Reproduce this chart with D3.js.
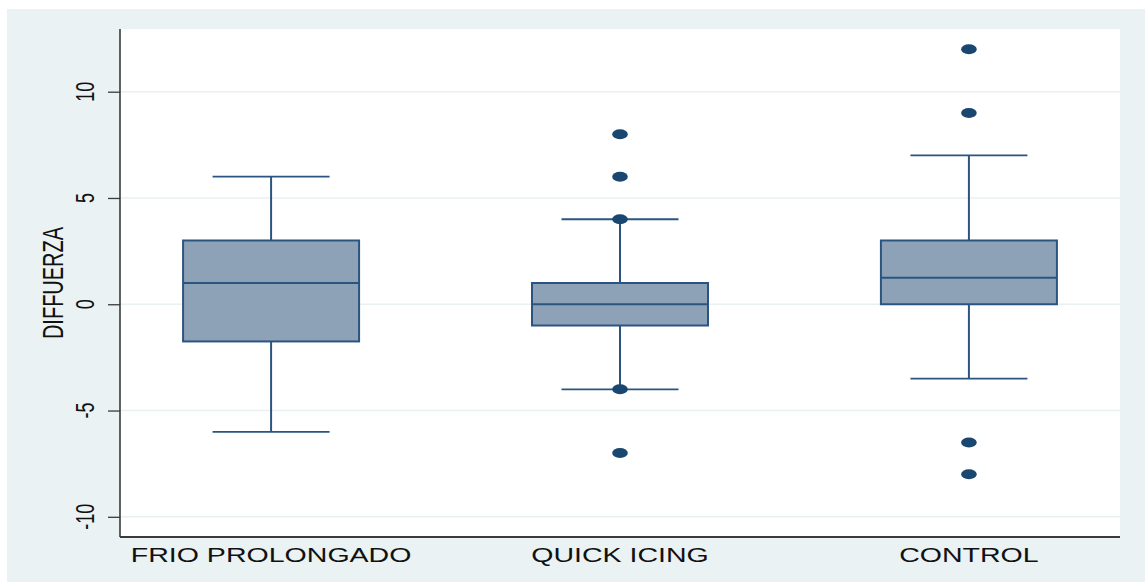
<!DOCTYPE html>
<html>
<head>
<meta charset="utf-8">
<script src="https://cdn.jsdelivr.net/npm/d3@7"></script>
<style>
  html, body { margin: 0; padding: 0; background: #ffffff; }
  svg { display: block; }
  text { font-family: "Liberation Sans", Arial, Helvetica, sans-serif; fill: #111; }
</style>
</head>
<body>
<svg id="chart" width="1145" height="582"></svg>
<script>
// Groups shown on the x axis
const categories = ["FRIO PROLONGADO", "QUICK ICING", "CONTROL"];

// Box statistics per group: lower whisker, Q1, median, Q3, upper whisker
const whiskerLow  = [-6,   -4, -3.5];
const q1          = [-1.75, -1,  0];
const medians     = [1,     0,  1.25];
const q3          = [3,     1,  3];
const whiskerHigh = [6,     4,  7];

// Individual observations drawn as dots (outside or at the whisker ends)
const outliers = [
  [],
  [8, 6, 4, -4, -7],
  [12, 9, -6.5, -8]
];

// Y axis tick labels
const yTicks = [-10, -5, 0, 5, 10];
const yTitle = "DIFFUERZA";

const svg = d3.select("#chart");
const W = 1145, H = 582;
const plot = { left: 120, right: 1120, top: 29, bottom: 537 };

const colors = {
  outer: "#eaf2f3",
  grid: "#e8f0f2",
  fill: "#8da2b6",
  stroke: "#2b5580",
  dot: "#1a476f",
  axis: "#3a3a3a"
};

// Outer graph region and white plot region
svg.append("rect").attr("x", 7).attr("y", 9).attr("width", W - 7).attr("height", H - 9)
  .attr("fill", colors.outer);
svg.append("rect").attr("x", plot.left).attr("y", plot.top)
  .attr("width", plot.right - plot.left).attr("height", plot.bottom - plot.top)
  .attr("fill", "#ffffff");

const y = d3.scaleLinear().domain([-10.95, 12.95]).range([plot.bottom, plot.top]);
const x = d3.scalePoint().domain(categories).range([plot.left, plot.right]).padding(0.433);

// Horizontal grid lines
svg.append("g").selectAll("line").data(yTicks).join("line")
  .attr("x1", plot.left).attr("x2", plot.right)
  .attr("y1", d => y(d)).attr("y2", d => y(d))
  .attr("stroke", colors.grid).attr("stroke-width", 1.6);

// Left axis with ticks
const yAxis = d3.axisLeft(y).tickValues(yTicks).tickSize(12).tickFormat("");
const gy = svg.append("g").attr("transform", `translate(${plot.left},0)`).call(yAxis);
gy.select(".domain").remove();
gy.selectAll(".tick line").attr("stroke", colors.axis).attr("stroke-width", 1.3);
svg.append("line").attr("x1", plot.left).attr("x2", plot.left)
  .attr("y1", plot.top).attr("y2", plot.bottom)
  .attr("stroke", colors.axis).attr("stroke-width", 1.6);

// Rotated tick labels
svg.append("g").selectAll("text").data(yTicks).join("text")
  .attr("transform", d => `translate(85,${y(d)}) rotate(-90) scale(1,1.45)`)
  .attr("text-anchor", "middle").attr("dominant-baseline", "central")
  .attr("font-size", 18)
  .text(d => d);

// Y axis title
svg.append("text")
  .attr("transform", `translate(53,${(plot.top + plot.bottom) / 2}) rotate(-90) scale(1,1.45)`)
  .attr("text-anchor", "middle").attr("dominant-baseline", "central")
  .attr("font-size", 20)
  .text(yTitle);

// Bottom axis line
svg.append("line").attr("x1", plot.left).attr("x2", plot.right)
  .attr("y1", plot.bottom).attr("y2", plot.bottom)
  .attr("stroke", colors.axis).attr("stroke-width", 2);

// Category labels
svg.append("g").selectAll("text").data(categories).join("text")
  .attr("transform", d => `translate(${x(d)},554) scale(1.36,1)`)
  .attr("text-anchor", "middle").attr("dominant-baseline", "central")
  .attr("font-size", 21)
  .text(d => d);

const boxHalf = 88, capHalf = 58.5;

const groups = svg.append("g").selectAll("g").data(categories).join("g");

// Whisker stems
groups.append("line")
  .attr("x1", d => x(d)).attr("x2", d => x(d))
  .attr("y1", (d, i) => y(whiskerHigh[i])).attr("y2", (d, i) => y(q3[i]))
  .attr("stroke", colors.stroke).attr("stroke-width", 2);
groups.append("line")
  .attr("x1", d => x(d)).attr("x2", d => x(d))
  .attr("y1", (d, i) => y(q1[i])).attr("y2", (d, i) => y(whiskerLow[i]))
  .attr("stroke", colors.stroke).attr("stroke-width", 2);

// Whisker caps
groups.append("line")
  .attr("x1", d => x(d) - capHalf).attr("x2", d => x(d) + capHalf)
  .attr("y1", (d, i) => y(whiskerHigh[i])).attr("y2", (d, i) => y(whiskerHigh[i]))
  .attr("stroke", colors.stroke).attr("stroke-width", 1.8);
groups.append("line")
  .attr("x1", d => x(d) - capHalf).attr("x2", d => x(d) + capHalf)
  .attr("y1", (d, i) => y(whiskerLow[i])).attr("y2", (d, i) => y(whiskerLow[i]))
  .attr("stroke", colors.stroke).attr("stroke-width", 1.8);

// Interquartile boxes
groups.append("rect")
  .attr("x", d => x(d) - boxHalf).attr("width", boxHalf * 2)
  .attr("y", (d, i) => y(q3[i])).attr("height", (d, i) => y(q1[i]) - y(q3[i]))
  .attr("fill", colors.fill).attr("stroke", colors.stroke).attr("stroke-width", 2);

// Medians
groups.append("line")
  .attr("x1", d => x(d) - boxHalf).attr("x2", d => x(d) + boxHalf)
  .attr("y1", (d, i) => y(medians[i])).attr("y2", (d, i) => y(medians[i]))
  .attr("stroke", colors.stroke).attr("stroke-width", 2);

// Dots
groups.each(function (d, i) {
  d3.select(this).selectAll("ellipse").data(outliers[i]).join("ellipse")
    .attr("cx", x(d)).attr("cy", v => y(v))
    .attr("rx", 7.8).attr("ry", 5)
    .attr("fill", colors.dot);
});
</script>
</body>
</html>
